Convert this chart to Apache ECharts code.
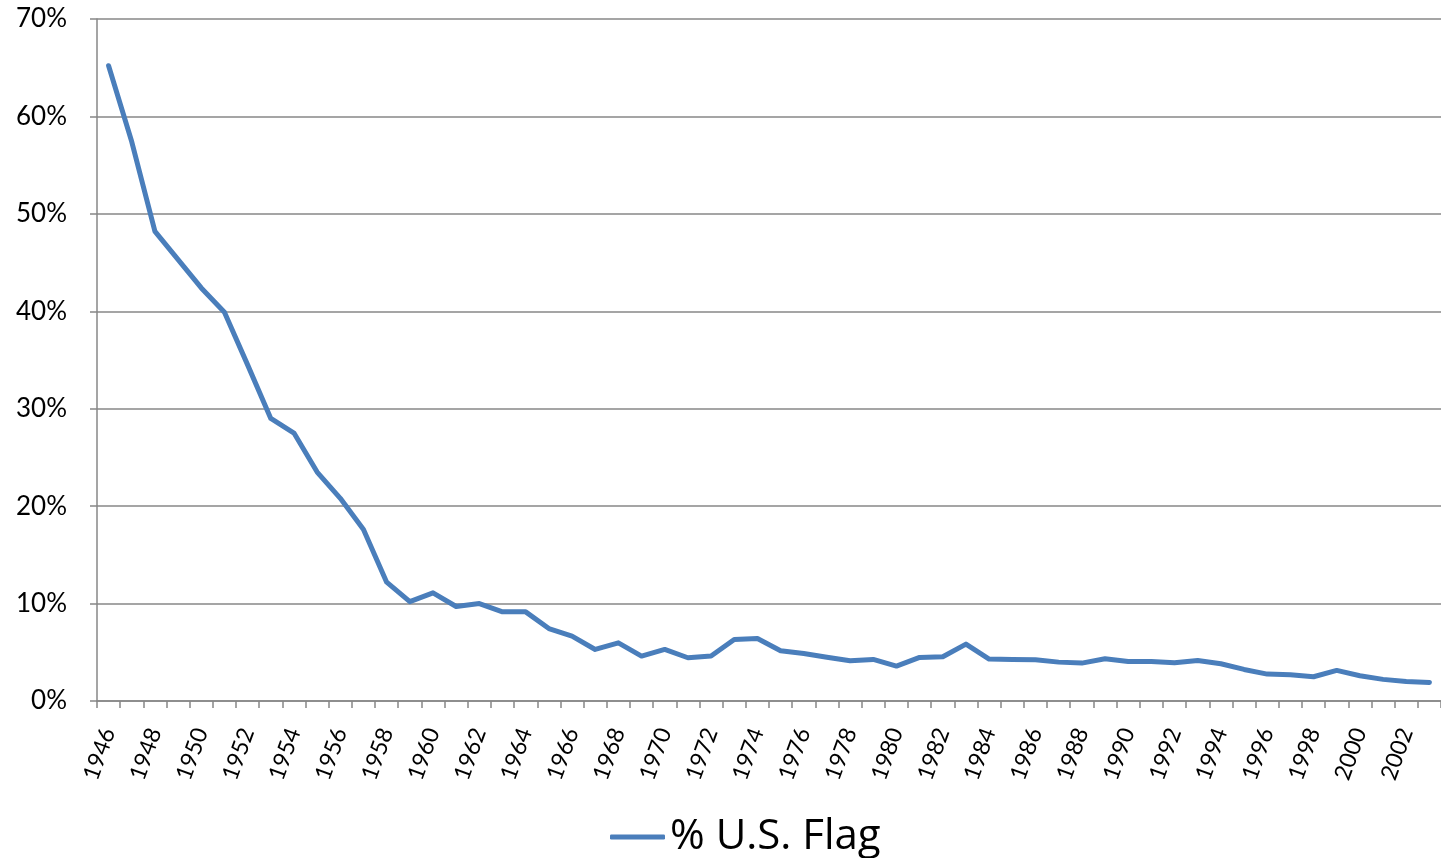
<!DOCTYPE html>
<html>
<head>
<meta charset="utf-8">
<title>% U.S. Flag</title>
<script src="https://cdn.jsdelivr.net/npm/echarts@6/dist/echarts.min.js"></script>
<style>
  html, body { margin: 0; padding: 0; background: #fff; }
  #main { width: 1441px; height: 858px; }
</style>
</head>
<body>
<div id="main"></div>
<script>
// years on the category axis
var years = [];
for (var y = 1946; y <= 2003; y++) years.push(String(y));

// share carried under U.S. flag, in percent
var usFlag = [
  65.2, 57.4, 48.2, 45.3, 42.4, 39.9, 34.5, 29.0, 27.5, 23.5,
  20.8, 17.6, 12.2, 10.2, 11.1, 9.7, 10.0, 9.15, 9.15, 7.44,
  6.66, 5.29, 5.97, 4.61, 5.29, 4.44, 4.61, 6.31, 6.42, 5.15,
  4.88, 4.5, 4.13, 4.27, 3.58, 4.47, 4.54, 5.84, 4.30, 4.27,
  4.23, 3.99, 3.89, 4.33, 4.06, 4.06, 3.92, 4.16, 3.82, 3.24,
  2.76, 2.70, 2.49, 3.14, 2.59, 2.22, 2.01, 1.91
];

var yTicks = [0, 10, 20, 30, 40, 50, 60, 70];

var grey = '#878787';
var font = 'Lato, "Open Sans", sans-serif';

var myChart = echarts.init(document.getElementById('main'));
myChart.setOption({
  animation: false,
  grid: { left: 97, top: 19, width: 1350, height: 682 },
  legend: {
    top: 811,
    left: 605,
    data: ['% U.S. Flag'],
    icon: 'roundRect',
    itemWidth: 55,
    itemHeight: 5,
    itemGap: 5,
    textStyle: { fontFamily: '"Open Sans", sans-serif', fontSize: 42, color: '#000' }
  },
  xAxis: {
    type: 'category',
    data: years,
    boundaryGap: true,
    axisLine: { lineStyle: { color: grey, width: 1.5 } },
    axisTick: { show: true, interval: 0, length: 7, lineStyle: { color: grey, width: 1.5 } },
    axisLabel: {
      interval: 1,
      rotate: 70,
      margin: 28,
      fontFamily: font,
      fontSize: 23,
      color: '#000'
    },
    splitLine: { show: false }
  },
  yAxis: {
    type: 'value',
    min: yTicks[0],
    max: yTicks[yTicks.length - 1],
    interval: 10,
    axisLine: { show: true, lineStyle: { color: grey, width: 1.5 } },
    axisTick: { show: true, length: 7, lineStyle: { color: grey, width: 1.5 } },
    axisLabel: {
      formatter: '{value}%',
      margin: 30,
      fontFamily: font,
      fontSize: 26,
      color: '#000'
    },
    splitLine: { lineStyle: { color: grey, width: 1.5 } }
  },
  series: [{
    name: '% U.S. Flag',
    type: 'line',
    data: usFlag,
    symbol: 'none',
    lineStyle: { color: '#4a7ebb', width: 5, cap: 'round', join: 'round' },
    itemStyle: { color: '#4a7ebb' }
  }]
});
</script>
</body>
</html>
